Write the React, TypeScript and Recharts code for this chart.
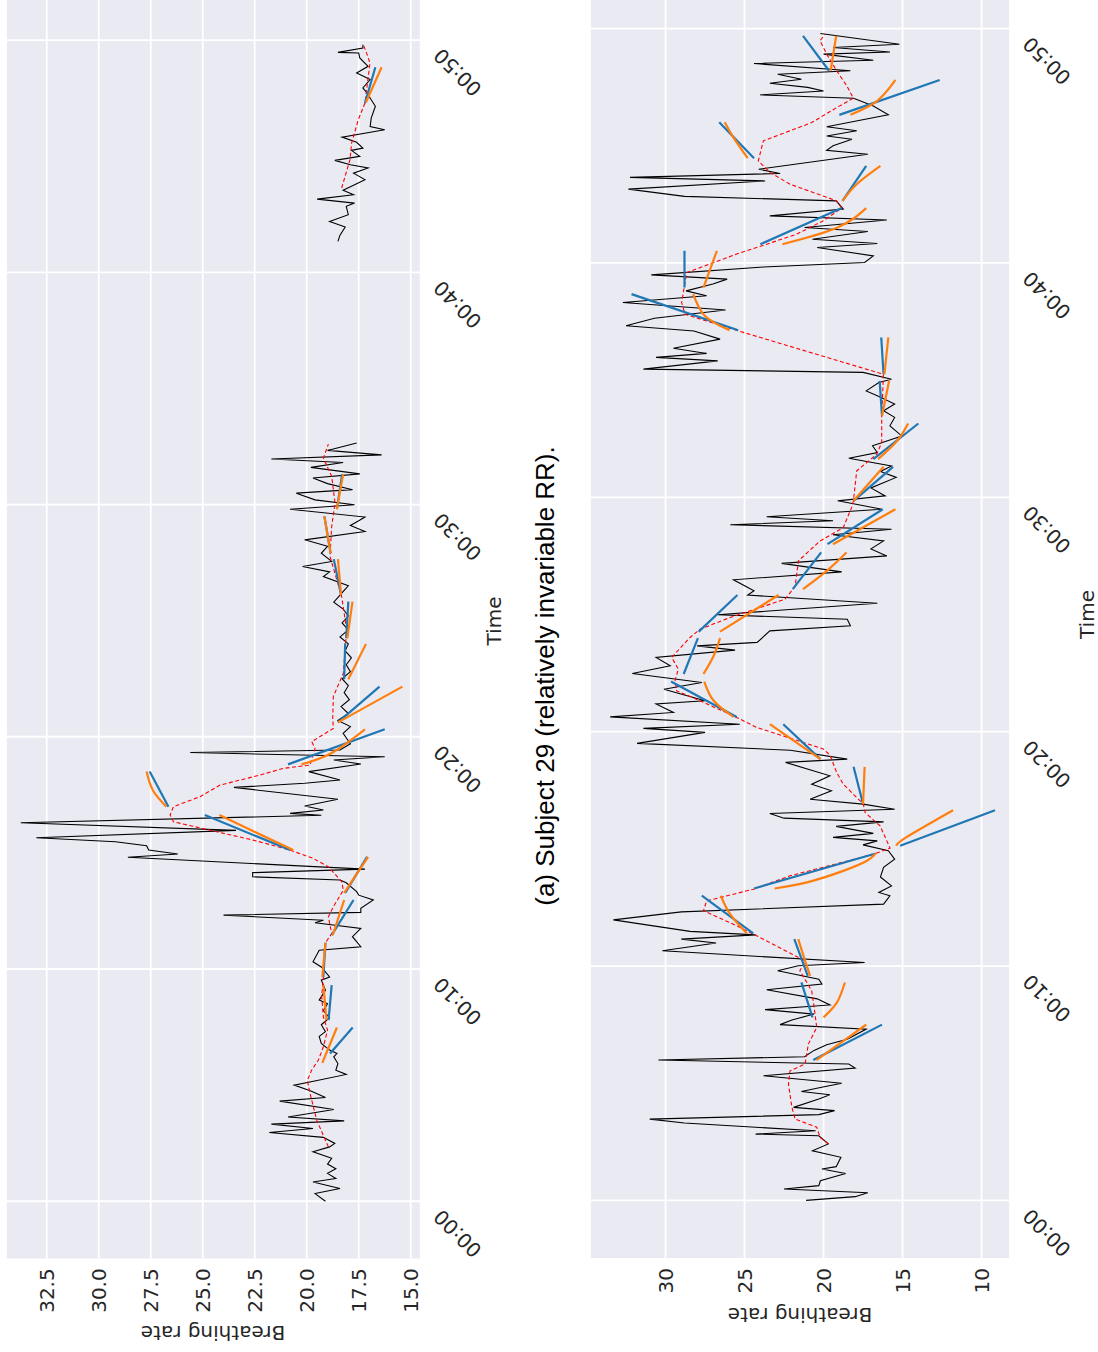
import { CartesianGrid, Line, LineChart, XAxis, YAxis } from "recharts"

// time in minutes, breathing rate in breaths/min
const topRaw: (number | null)[][] = [
  [0.0, 19.1], [0.33, 19.6], [0.55, 18.4], [0.83, 19.7], [0.98, 18.6], [1.2, 19.0], [1.4, 18.6], [1.6, 19.0],
  [1.85, 18.8], [2.13, 19.7], [2.34, 18.9], [2.49, 18.65], [2.75, 19.2], [2.96, 21.8], [3.13, 19.7], [3.32, 21.7],
  [3.46, 18.2], [3.63, 20.9], [3.95, 18.7], [4.31, 21.3], [4.47, 19.1], [4.75, 19.8], [5.0, 20.6], [5.2, 19.5],
  [5.46, 18.1], [5.64, 18.6], [5.93, 18.5], [6.22, 18.7], [6.36, 18.55], [6.51, 18.9], [6.8, 19.3], [7.1, 19.4],
  [7.3, 19.1], [7.6, 19.3], [7.9, 18.9], [8.2, 19.2], [8.5, 19.0], [8.66, 19.4], [9.09, 19.1], [9.52, 19.3],
  [9.66, 18.9], [10.09, 19.3], [10.31, 19.7], [10.81, 19.4], [10.96, 17.4], [11.39, 17.8], [11.75, 17.4],
  [11.99, 19.6], [12.1, 19.2], [12.32, 24.0], [12.44, 17.4], [12.61, 17.4], [12.97, 16.8], [13.18, 17.5],
  [13.33, 17.6], [13.71, 18.1], [13.83, 18.4], [13.97, 22.6], [14.15, 22.6], [14.3, 17.2], [14.81, 28.6],
  [14.95, 26.2], [15.12, 27.6], [15.31, 27.7], [15.48, 29.2], [15.65, 33.0], [15.97, 23.4], [16.3, 33.75],
  [16.62, 19.3], [16.7, 20.8], [16.85, 19.2], [17.02, 20.1], [17.31, 18.5], [17.82, 23.5], [18.0, 20.1],
  [18.14, 18.4], [18.5, 19.9], [18.83, 17.4], [19.0, 18.7], [19.14, 16.25], [19.32, 25.6], [19.43, 18.4],
  [19.7, 17.9], [20.15, 18.25], [20.44, 17.9], [20.7, 18.5], [21.0, 18.0], [21.3, 18.35], [21.6, 17.95],
  [21.9, 18.2], [22.2, 18.0], [22.5, 18.3], [22.8, 17.9], [23.1, 18.1], [23.4, 17.85], [23.7, 18.15], [24.0, 18.0],
  [24.3, 18.4], [24.6, 18.0], [24.9, 18.3], [25.2, 18.0], [25.5, 18.25], [25.8, 18.7], [26.1, 18.4], [26.3, 18.2],
  [26.5, 18.0], [26.9, 19.2], [27.1, 18.9], [27.33, 20.2], [27.55, 18.8], [27.9, 19.3], [28.2, 19.0], [28.48, 20.1],
  [28.84, 17.2], [29.1, 17.9], [29.3, 17.5], [29.46, 17.2], [29.8, 20.8], [29.99, 17.7], [30.2, 19.6], [30.49, 20.5],
  [30.64, 17.8], [30.9, 19.0], [31.14, 19.7], [31.32, 17.45], [31.6, 19.8], [31.81, 18.25], [31.96, 21.7],
  [32.14, 16.4], [32.33, 19.0], [32.65, 17.6], [37, null], [41.33, 18.5], [41.6, 18.4], [41.95, 18.15],
  [42.19, 18.9], [42.48, 18.0], [42.84, 18.1], [42.98, 17.7], [43.15, 19.5], [43.34, 17.75], [43.53, 18.25],
  [43.7, 17.85], [43.99, 17.2], [44.27, 17.75], [44.49, 17.05], [44.63, 17.9], [44.82, 18.65], [44.99, 17.45],
  [45.25, 17.85], [45.35, 17.3], [45.6, 17.6], [45.82, 18.3], [46.14, 16.25], [46.28, 16.95], [46.64, 16.9],
  [47.15, 16.7], [47.43, 16.9], [47.72, 17.1], [47.94, 17.3], [48.3, 16.95], [48.58, 17.6], [48.87, 17.05],
  [49.23, 17.45], [49.44, 17.5], [49.47, 18.5], [49.66, 17.3], [49.8, 17.3],
]

const topSmooth: (number | null)[][] = [
  [2.34, 18.96], [3.49, 19.52], [4.64, 19.84], [5.21, 19.97], [5.65, 19.76], [6.08, 19.44], [6.65, 19.2],
  [7.37, 19.0], [7.94, 19.2], [8.8, 19.28], [9.67, 19.2], [10.1, 19.2], [11.1, 19.12], [11.53, 18.8],
  [12.25, 18.96], [12.68, 18.72], [13.4, 18.24], [13.76, 18.32], [14.4, 18.96], [14.76, 19.68], [15.12, 20.8],
  [15.55, 22.57], [15.91, 24.33], [16.34, 26.41], [16.63, 26.57], [16.99, 26.41], [17.42, 25.13], [17.92, 24.17],
  [18.35, 22.25], [18.64, 21.12], [18.78, 19.84], [19.5, 19.6], [19.79, 19.76], [20.36, 18.72], [20.8, 18.75],
  [21.73, 18.72], [22.74, 18.24], [24.6, 18.08], [26.04, 18.32], [27.76, 18.88], [29.06, 18.8], [30.06, 18.64],
  [31.21, 18.8], [32.0, 19.2], [32.6, 18.96], [37, null], [43.63, 18.32], [44.85, 17.92], [45.57, 17.84],
  [46.57, 17.52], [47.29, 17.2], [48.44, 17.04], [49.01, 16.96], [49.44, 17.12], [49.8, 17.28],
]

// forecast segments: t0, r0, ..., tn, rn
const topBlue = [
  [6.36, 18.88, 7.48, 17.79], [7.8, 18.95, 9.31, 18.8], [9.66, 19.2, 11.13, 19.1], [11.46, 18.8, 12.97, 17.75],
  [13.28, 18.15, 14.83, 17.1], [15.12, 20.8, 16.63, 24.9], [16.99, 26.65, 18.5, 27.55], [18.81, 20.9, 20.32, 16.25],
  [20.62, 18.5, 22.16, 16.5], [22.48, 18.2, 24.03, 18.15], [24.24, 18.1, 25.82, 18.0], [26.11, 18.35, 27.65, 18.7],
  [27.9, 18.85, 29.49, 19.15], [29.8, 18.55, 31.31, 18.3], [47.29, 17.2, 48.83, 16.7],
]

const topOrange = [
  [5.96, 19.25, 7.48, 18.55], [7.8, 19.05, 9.31, 19.2], [9.66, 19.25, 11.13, 19.1], [11.46, 18.75, 12.97, 18.2],
  [13.28, 18.2, 14.83, 17.05], [15.12, 20.65, 16.63, 24.2], [16.99, 26.75, 17.7, 27.4, 18.5, 27.7],
  [18.81, 20.25, 19.3, 18.8, 20.32, 17.2], [20.62, 18.5, 22.16, 15.4], [22.48, 18.0, 24.0, 17.15],
  [24.24, 18.05, 25.82, 17.8], [26.11, 18.35, 27.65, 18.5], [27.9, 18.85, 29.49, 19.15], [29.8, 18.55, 31.31, 18.25],
  [47.32, 17.15, 48.83, 16.4],
]

const botRaw: number[][] = [
  [0.0, 21.1], [0.16, 18.0], [0.33, 17.2], [0.49, 22.5], [0.63, 20.3], [0.84, 20.2], [1.15, 18.6], [1.34, 20.1],
  [1.44, 19.2], [1.84, 18.9], [2.12, 20.7], [2.41, 19.7], [2.76, 20.3], [2.83, 24.3], [2.97, 20.5], [3.3, 28.8],
  [3.47, 31.0], [3.66, 20.3], [3.83, 19.3], [3.97, 21.9], [4.33, 20.3], [4.51, 19.6], [4.65, 21.4], [4.82, 20.2],
  [5.0, 18.85], [5.32, 23.8], [5.65, 18.0], [5.82, 18.4], [5.99, 30.45], [6.13, 21.2], [6.4, 20.6], [6.64, 19.8],
  [6.88, 18.5], [7.31, 17.3], [7.5, 22.75], [7.7, 22.0], [7.95, 20.6], [8.14, 23.7], [8.34, 19.6], [8.6, 20.4],
  [8.99, 23.6], [9.23, 20.1], [9.44, 20.3], [9.8, 22.9], [10.01, 21.6], [10.15, 17.4], [10.65, 30.2], [10.98, 26.8],
  [11.15, 29.0], [11.33, 24.3], [11.48, 28.45], [11.97, 33.3], [12.31, 29.0], [12.64, 16.2], [13.0, 15.8],
  [13.14, 16.5], [13.42, 15.7], [13.8, 16.4], [14.21, 16.2], [14.56, 15.5], [14.92, 15.9], [15.17, 17.5],
  [15.34, 16.6], [15.49, 19.4], [15.66, 16.85], [15.96, 19.2], [16.15, 16.2], [16.31, 22.5], [16.51, 23.4],
  [16.69, 15.5], [16.91, 17.5], [17.12, 20.85], [17.48, 19.5], [17.76, 20.75], [18.12, 19.6], [18.69, 22.4],
  [18.83, 18.5], [19.21, 22.1], [19.5, 31.8], [19.97, 27.5], [20.14, 31.4], [20.32, 25.3], [20.63, 33.5],
  [20.82, 29.5], [21.18, 30.6], [21.32, 27.5], [21.81, 30.1], [22.1, 27.7], [22.48, 32.1], [22.81, 29.7],
  [23.17, 30.6], [23.48, 25.6], [23.66, 28.0], [23.81, 24.2], [24.3, 23.4], [24.52, 18.3], [24.8, 18.5],
  [24.99, 26.7], [25.48, 16.6], [25.83, 24.8], [26.01, 24.4], [26.48, 25.7], [26.82, 18.85], [27.18, 22.65],
  [27.5, 16.0], [27.8, 17.0], [28.14, 16.2], [28.4, 19.4], [28.64, 15.7], [28.83, 25.9], [29.0, 19.4],
  [29.17, 23.6], [29.49, 16.3], [29.85, 19.1], [30.06, 16.1], [30.4, 17.0], [30.85, 15.4], [31.1, 16.4],
  [31.34, 15.7], [31.67, 18.4], [31.91, 16.6], [32.2, 16.9], [32.62, 15.05], [33.05, 15.8], [33.41, 15.5],
  [33.69, 16.2], [33.98, 15.5], [34.33, 16.6], [34.54, 17.3], [34.9, 16.5], [35.04, 15.7], [35.33, 17.5],
  [35.47, 31.4], [35.82, 26.7], [35.97, 30.6], [36.14, 27.4], [36.36, 29.5], [36.75, 26.55], [37.1, 28.2],
  [37.32, 32.5], [37.64, 30.7], [37.99, 26.2], [38.31, 32.7], [38.6, 27.4], [38.81, 28.7], [39.1, 27.0],
  [39.31, 26.1], [39.49, 30.9], [39.83, 23.8], [40.02, 17.4], [40.3, 16.85], [40.66, 20.4], [40.83, 16.6],
  [41.01, 20.7], [41.34, 17.2], [41.51, 21.2], [41.83, 16.0], [42.01, 23.4], [42.3, 18.75], [42.65, 19.2],
  [42.84, 28.8], [43.15, 32.35], [43.5, 23.7], [43.65, 32.25], [43.82, 22.75], [44.0, 24.1], [44.64, 17.2],
  [44.81, 19.8], [45.0, 19.4], [45.28, 18.2], [45.42, 19.8], [45.64, 17.9], [45.81, 19.8], [46.32, 15.9],
  [46.7, 16.85], [47.03, 18.1], [47.17, 24.0], [47.34, 20.0], [47.49, 21.0], [47.67, 23.4], [47.84, 21.4],
  [48.05, 22.9], [48.2, 18.3], [48.51, 24.4], [48.65, 16.85], [48.91, 20.0], [49.0, 15.8], [49.19, 19.4],
  [49.33, 15.2], [49.79, 20.2],
]

const botSmooth: number[][] = [
  [2.41, 19.69], [2.69, 20.22], [3.12, 20.43], [3.47, 21.8], [3.97, 22.0], [4.96, 22.22], [5.53, 22.12],
  [5.82, 21.17], [6.67, 20.96], [7.38, 20.43], [8.45, 20.64], [8.95, 20.75], [9.8, 21.5], [10.22, 21.17],
  [11.29, 24.23], [11.72, 25.5], [12.36, 27.6], [12.78, 27.4], [13.28, 24.44], [13.85, 22.12], [14.77, 16.85],
  [15.03, 15.79], [15.98, 16.42], [16.55, 17.37], [16.91, 17.48], [17.76, 18.75], [18.26, 19.17], [19.0, 19.59],
  [19.26, 20.01], [20.18, 24.23], [20.61, 25.5], [21.32, 27.82], [21.74, 29.29], [22.17, 29.4], [22.67, 29.19],
  [23.17, 29.61], [24.02, 28.45], [24.37, 27.82], [24.87, 25.92], [25.65, 22.44], [26.2, 21.8], [27.29, 21.59],
  [28.14, 20.22], [28.71, 18.75], [29.57, 18.22], [29.85, 18.11], [31.13, 17.9], [31.84, 16.63], [32.34, 16.32],
  [33.41, 16.32], [35.25, 16.21], [37.1, 25.39], [37.81, 28.76], [38.31, 28.98], [39.59, 28.66], [40.38, 25.5],
  [40.8, 23.6], [41.23, 21.7], [41.8, 20.01], [42.34, 18.85], [42.65, 19.17], [43.36, 22.12], [43.86, 23.39],
  [44.36, 24.13], [45.21, 23.81], [45.64, 22.12], [45.99, 20.75], [46.63, 19.17], [47.03, 18.11], [47.56, 18.53],
  [48.2, 19.17], [48.91, 19.8], [49.48, 20.22], [49.76, 19.9],
]

const botBlue = [
  [5.99, 20.65, 7.5, 16.3], [7.81, 20.7, 9.3, 21.4], [9.58, 21.0, 11.15, 21.85], [11.39, 24.45, 13.0, 27.7],
  [13.31, 24.4, 14.8, 16.7], [15.13, 15.15, 16.65, 9.15], [16.91, 17.5, 18.5, 18.1], [18.83, 20.2, 20.32, 22.55],
  [20.63, 25.5, 22.14, 29.65], [22.46, 28.85, 23.99, 27.95], [24.27, 27.9, 25.83, 25.45], [26.08, 21.95, 27.65, 20.15],
  [28.0, 19.75, 29.49, 16.25], [29.85, 18.1, 31.3, 15.6], [31.63, 16.85, 33.15, 14.0], [33.48, 16.3, 34.97, 16.45],
  [35.25, 16.2, 36.82, 16.35], [37.13, 25.4, 38.67, 32.15], [38.95, 28.8, 40.52, 28.8], [40.8, 24.0, 42.34, 18.85],
  [42.65, 18.8, 44.14, 17.3], [44.47, 24.4, 46.0, 26.6], [46.32, 19.0, 47.81, 12.65], [48.2, 19.65, 49.69, 21.3],
]

const botOrange = [
  [5.99, 20.45, 6.75, 18.85, 7.5, 17.3], [7.81, 20.0, 8.45, 19.15, 9.3, 18.65], [9.58, 20.85, 10.5, 21.3, 11.15, 21.6],
  [11.39, 24.85, 12.2, 25.9, 13.0, 26.5], [13.31, 23.1, 13.57, 21.05, 14.06, 18.75, 14.49, 17.25, 14.8, 16.7],
  [15.13, 15.4, 15.5, 14.75, 16.65, 11.8], [16.91, 17.5, 18.5, 17.4], [18.83, 20.2, 20.32, 23.4],
  [20.63, 25.7, 21.32, 26.95, 22.14, 27.55], [22.46, 27.6, 23.24, 26.95, 23.99, 26.55], [24.27, 26.55, 25.83, 22.85],
  [26.08, 21.3, 26.86, 19.8, 27.65, 18.55], [28.0, 19.4, 29.49, 15.45], [29.85, 18.1, 31.3, 16.2],
  [31.63, 16.55, 32.4, 15.35, 33.15, 14.65], [33.48, 16.3, 34.97, 15.85], [35.25, 16.15, 36.82, 15.9],
  [37.13, 25.95, 37.74, 27.5, 38.67, 28.25], [38.95, 27.6, 40.52, 26.75], [40.8, 22.6, 41.5, 19.15, 42.34, 17.3],
  [42.65, 18.8, 43.36, 17.9, 44.14, 16.4], [44.47, 24.8, 45.35, 25.7, 46.0, 26.25],
  [46.32, 18.3, 46.92, 16.6, 47.81, 15.45], [48.2, 19.55, 49.69, 19.2],
]

const timeTicks = [0, 10, 20, 30, 40, 50]
const topRateTicks = [15, 17.5, 20, 22.5, 25, 27.5, 30, 32.5]
const botRateTicks = [10, 15, 20, 25, 30]

const TEXT = "#262626"
const FONT = "DejaVu Sans"
const FS = 20

const pairs = (arr: (number | null)[][]) => arr.map(([t, r]) => ({ t, r }))
const seg = (s: number[]) => {
  const out = []
  for (let i = 0; i < s.length; i += 2) out.push({ t: s[i], r: s[i + 1] })
  return out
}
const fmtTime = (v: number) => `00:${String(v).padStart(2, "0")}`

function TimeTick(props: any) {
  const { x, y, payload } = props
  const tx = x - 7
  const ty = y + 21.5
  return (
    <text x={tx} y={ty} transform={`rotate(-45 ${tx} ${ty})`} textAnchor="end" fill={TEXT} fontSize={FS} fontFamily={FONT}>
      {fmtTime(payload.value)}
    </text>
  )
}

function Panel(props: any) {
  const { width, height, plotTop, plotH, yAxisW, yDomain, yTicks, yFmt, raw, smooth, blue, orange } = props
  return (
    <LineChart width={width} height={height} margin={{ top: plotTop, right: 0, bottom: 0, left: 0 }}>
      <CartesianGrid fill="#eaeaf2" stroke="#ffffff" strokeWidth={1.8} />
      <XAxis
        type="number"
        dataKey="t"
        domain={[-2.5, 52.5]}
        ticks={timeTicks}
        interval={0}
        tick={<TimeTick />}
        tickSize={0}
        tickMargin={0}
        axisLine={false}
        tickLine={false}
        height={height - plotTop - plotH}
        allowDataOverflow
      />
      <YAxis
        type="number"
        domain={yDomain}
        ticks={yTicks}
        interval={0}
        tickFormatter={yFmt}
        width={yAxisW}
        tickSize={0}
        tickMargin={9}
        axisLine={false}
        tickLine={false}
        tick={{ fill: TEXT, fontSize: FS, fontFamily: FONT }}
        allowDataOverflow
      />
      <Line data={pairs(raw)} dataKey="r" type="linear" stroke="#000000" strokeWidth={1.1} dot={false} activeDot={false} isAnimationActive={false} />
      <Line data={pairs(smooth)} dataKey="r" type="linear" stroke="#ff0000" strokeWidth={1.1} strokeDasharray="4 2.5" dot={false} activeDot={false} isAnimationActive={false} />
      {blue.map((s: number[], i: number) => (
        <Line key={"b" + i} data={seg(s)} dataKey="r" type="linear" stroke="#1f77b4" strokeWidth={2.2} dot={false} activeDot={false} isAnimationActive={false} />
      ))}
      {orange.map((s: number[], i: number) => (
        <Line key={"o" + i} data={seg(s)} dataKey="r" type="natural" stroke="#ff7f0e" strokeWidth={2.2} dot={false} activeDot={false} isAnimationActive={false} />
      ))}
    </LineChart>
  )
}

function Label({ x, y, text, rotate = 0, size = FS, family = FONT, color = TEXT }: any) {
  return (
    <div
      style={{
        position: "absolute",
        left: x,
        top: y,
        transform: `translate(-50%, -50%) rotate(${rotate}deg)`,
        whiteSpace: "nowrap",
        fontSize: size,
        lineHeight: 1,
        fontFamily: family,
        color,
      }}
    >
      {text}
    </div>
  )
}

export default function App() {
  return (
    <div style={{ position: "absolute", left: 0, top: 0, width: 1098, height: 1352, overflow: "hidden", background: "#fff" }}>
      <div
        style={{
          position: "absolute",
          left: 0,
          top: 0,
          width: 1352,
          height: 1098,
          transformOrigin: "0 0",
          transform: "translate(0px, 1352px) rotate(-90deg)",
        }}
      >
        <div style={{ position: "absolute", left: 0, top: 0 }}>
          <Panel
            width={1370}
            height={520}
            plotTop={6}
            plotH={414.7}
            yAxisW={92.7}
            yDomain={[14.52, 34.46]}
            yTicks={topRateTicks}
            yFmt={(v: number) => v.toFixed(1)}
            raw={topRaw}
            smooth={topSmooth}
            blue={topBlue}
            orange={topOrange}
          />
        </div>
        <Label x={19} y={213.3} text="Breathing rate" rotate={-90} />
        <Label x={731} y={493.5} text="Time" />
        <Label x={676} y={545} text="(a) Subject 29 (relatively invariable RR)." size={26} family="Liberation Sans" color="#000" />
        <div style={{ position: "absolute", left: 0, top: 584 }}>
          <Panel
            width={1382}
            height={530}
            plotTop={6}
            plotH={420}
            yAxisW={93}
            yDomain={[8.2, 34.78]}
            yTicks={botRateTicks}
            yFmt={(v: number) => String(v)}
            raw={botRaw}
            smooth={botSmooth}
            blue={botBlue}
            orange={botOrange}
          />
        </div>
        <Label x={37} y={800} text="Breathing rate" rotate={-90} />
        <Label x={737.5} y={1087} text="Time" />
      </div>
    </div>
  )
}
